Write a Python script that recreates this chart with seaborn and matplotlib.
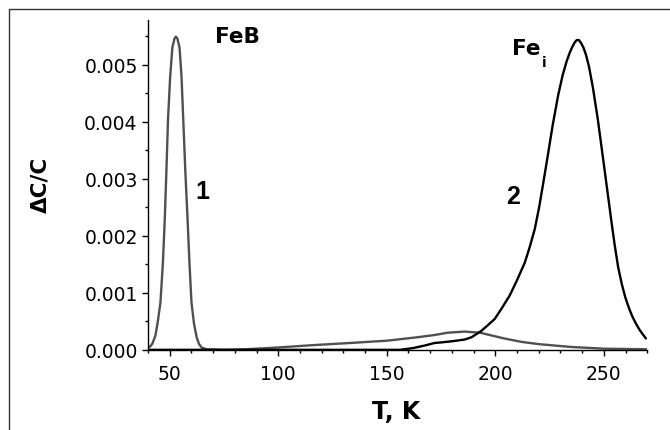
import numpy as np
import pandas as pd
import matplotlib
matplotlib.use("Agg")
import matplotlib.pyplot as plt
from matplotlib.lines import Line2D
from matplotlib.ticker import MultipleLocator, FormatStrFormatter
import seaborn as sns

# Curve 1 (FeB)
t1 = [40, 41, 42, 43.4, 44.5, 45.7, 46.8, 47.7, 48.5, 49.2, 50.2, 51.2, 52.2, 52.8,
      53.5, 54.5, 55.4, 56.2, 57.2, 58.2, 59.1, 60, 61.2, 62.4, 63.5, 64.7, 67, 75,
      85, 99.4, 115, 133, 150, 164, 172, 178, 185.8, 193, 204, 212, 220, 235, 250, 270]
c1 = [0.00004, 0.00006, 0.00011, 0.00025, 0.0005, 0.00083, 0.0015, 0.00229, 0.0032,
      0.00405, 0.0048, 0.0053, 0.00546, 0.00549, 0.00546, 0.0053, 0.0048, 0.00405,
      0.0031, 0.00229, 0.0015, 0.00083, 0.00045, 0.00022, 0.0001, 0.00004, 0.00001,
      0.0, 0.00001, 0.00004, 0.00008, 0.00012, 0.00016, 0.00022, 0.00026, 0.0003,
      0.00032, 0.0003, 0.0002, 0.00014, 0.0001, 0.00005, 0.00002, 0.00001]

# Curve 2 (Fe_i)
t2 = [40, 156, 162, 168, 172, 175, 180, 185.8, 189, 193.5, 196.5, 199.7, 203, 206.6,
      210, 213.6, 216, 218.2, 220.2, 222.3, 224.5, 226.4, 229, 231, 232.8, 234.3,
      235.6, 236.6, 237.5, 238.5, 239.5, 240.6, 241.8, 243.2, 245, 247.2, 249, 250.3,
      251.8, 253.4, 255, 256.6, 258.3, 259.9, 261.6, 263.2, 264.8, 266.5, 268, 269.4]
c2 = [0.0, 0.0, 0.00003, 0.00008, 0.00012, 0.00013, 0.00015, 0.00018, 0.00022,
      0.00033, 0.00043, 0.00054, 0.00073, 0.00095, 0.00122, 0.00153, 0.00182, 0.00212,
      0.0025, 0.00297, 0.00348, 0.00393, 0.00447, 0.00481, 0.00505, 0.00521, 0.00532,
      0.00539, 0.00543, 0.00543, 0.00538, 0.0053, 0.00517, 0.00496, 0.00459, 0.00405,
      0.00354, 0.00317, 0.00274, 0.00228, 0.00184, 0.00145, 0.00115, 0.00092, 0.00073,
      0.00058, 0.00046, 0.00035, 0.00027, 0.0002]

df = pd.concat([
    pd.DataFrame({"T": t1, "dC": c1, "curve": "1"}),
    pd.DataFrame({"T": t2, "dC": c2, "curve": "2"}),
])

sns.set_style("ticks")
plt.rcParams["font.family"] = ["DejaVu Sans"]
plt.rcParams["text.color"] = "black"
plt.rcParams["xtick.color"] = "black"
plt.rcParams["ytick.color"] = "black"
plt.rcParams["axes.labelcolor"] = "black"

fig = plt.figure(figsize=(6.7, 4.31), dpi=100)
ax = fig.add_axes([0.221, 0.186, 0.745, 0.765])

sns.lineplot(data=df, x="T", y="dC", hue="curve", palette={"1": "#505050", "2": "#000000"},
             estimator=None, sort=True, linewidth=1.7, legend=False, ax=ax)

ax.set_xlim(40, 270)
ax.set_ylim(0, 0.00578)
ax.xaxis.set_major_locator(MultipleLocator(50))
ax.xaxis.set_minor_locator(MultipleLocator(10))
ax.yaxis.set_major_locator(MultipleLocator(0.001))
ax.yaxis.set_minor_locator(MultipleLocator(0.0005))
ax.yaxis.set_major_formatter(FormatStrFormatter("%.3f"))
ax.tick_params(which="major", direction="out", length=4, width=1, labelsize=13.5)
ax.tick_params(axis="x", which="major", pad=6)
ax.tick_params(which="minor", direction="out", length=2.5, width=1)
sns.despine(ax=ax)
for s in ["left", "bottom"]:
    ax.spines[s].set_color("black")
    ax.spines[s].set_linewidth(1)

ax.set_xlabel("T, K", fontsize=17, fontweight="bold", va="top")
ax.xaxis.set_label_coords(0.497, -0.1495)
ax.set_ylabel("ΔC/C", fontsize=15.5, fontweight="bold")
ax.yaxis.set_label_coords(-0.196, 0.504)

ax.text(81, 0.0055, "FeB", fontsize=15.5, fontweight="bold", ha="center", va="center")
ax.text(64.8, 0.00278, "1", fontsize=18, fontweight="bold", family="Liberation Sans",
        ha="center", va="center")
ax.text(208.1, 0.00269, "2", fontsize=18, fontweight="bold", family="Liberation Sans",
        ha="center", va="center")
ax.text(207.6, 0.00519, "Fe", fontsize=15.5, fontweight="bold", ha="left", va="baseline")
ax.text(221.6, 0.00497, "i", fontsize=10, fontweight="bold", ha="left", va="baseline")

# outer frame (left and top edges)
fig.add_artist(Line2D([9 / 670, 9 / 670], [0, 1 - 10 / 431], transform=fig.transFigure,
                      color="#333333", linewidth=1))
fig.add_artist(Line2D([9 / 670, 1], [1 - 10 / 431, 1 - 10 / 431], transform=fig.transFigure,
                      color="#333333", linewidth=1))

fig.savefig("out.png", dpi=100)
